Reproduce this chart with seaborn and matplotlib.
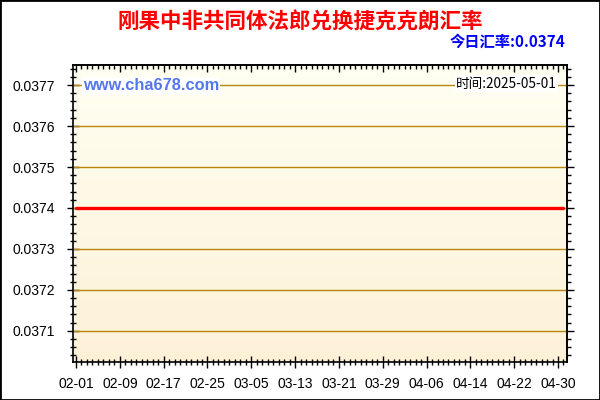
import numpy as np
import pandas as pd
import matplotlib
matplotlib.use("Agg")
import matplotlib.pyplot as plt
import matplotlib.dates as mdates
from matplotlib.colors import LinearSegmentedColormap
from matplotlib.ticker import FixedLocator, MultipleLocator, FormatStrFormatter, NullFormatter
import seaborn as sns

# data
start_date = "2025-02-01"
end_date = "2025-05-01"
rate_value = 0.0374
x_tick_dates = ["2025-02-01", "2025-02-09", "2025-02-17", "2025-02-25", "2025-03-05", "2025-03-13",
                "2025-03-21", "2025-03-29", "2025-04-06", "2025-04-14", "2025-04-22", "2025-04-30"]
x_tick_labels = ["02-01", "02-09", "02-17", "02-25", "03-05", "03-13",
                 "03-21", "03-29", "04-06", "04-14", "04-22", "04-30"]
y_ticks = [0.0371, 0.0372, 0.0373, 0.0374, 0.0375, 0.0376, 0.0377]
title = "刚果中非共同体法郎兑换捷克克朗汇率"
today_text = "今日汇率:0.0374"
time_text = "时间:2025-05-01"
site_text = "www.cha678.com"

dates = pd.date_range(start_date, end_date, freq="D")
df = pd.DataFrame({"date": dates, "rate": [rate_value] * len(dates)})

sns.set_theme(style="white")
plt.rcParams["font.family"] = ["Liberation Sans", "Noto Sans CJK SC", "DejaVu Sans"]
cjk = ["Noto Sans CJK SC", "DejaVu Sans"]

fig = plt.figure(figsize=(6, 4), dpi=100)
ax = fig.add_axes([73 / 600, 38 / 400, 494 / 600, 297 / 400])

# background gradient
cmap = LinearSegmentedColormap.from_list("bg", ["#FDF1D8", "#FFFFF2"])
grad = np.linspace(0, 1, 256).reshape(-1, 1)
ax.imshow(grad, extent=[0, 1, 0, 1], transform=ax.transAxes, aspect="auto",
          cmap=cmap, origin="lower", zorder=0)

for yv in y_ticks:
    ax.axhline(yv, color="#B8860B", lw=1, zorder=1)

sns.lineplot(data=df, x="date", y="rate", color="#FF0000", lw=2.4, ax=ax, zorder=3)

x0 = mdates.date2num(pd.Timestamp(start_date))
x1 = mdates.date2num(pd.Timestamp(x_tick_dates[-1]))
ax.set_xlim(x0 - 0.55, x1 + 1.64)
ax.set_ylim(0.037024, 0.037749)

major_x = mdates.date2num(pd.to_datetime(x_tick_dates))
ax.set_xlabel("")
ax.set_ylabel("")
for s in ax.spines.values():
    s.set_color("black")
    s.set_linewidth(1.2)

# top ticks point inward, right ticks outward
top = ax.secondary_xaxis("top")
top.xaxis.set_major_locator(FixedLocator(major_x))
top.xaxis.set_minor_locator(mdates.DayLocator())
top.xaxis.set_major_formatter(NullFormatter())
top.tick_params(which="major", direction="in", length=5, width=1, color="black")
top.tick_params(which="minor", direction="in", length=3, width=1, color="black")
right = ax.secondary_yaxis("right")
right.yaxis.set_major_locator(FixedLocator(y_ticks))
right.yaxis.set_minor_locator(MultipleLocator(0.00002))
right.yaxis.set_major_formatter(NullFormatter())
right.tick_params(which="major", direction="out", length=5, width=1, color="black")
right.tick_params(which="minor", direction="out", length=3, width=1, color="black")
for sec in (top, right):
    for s in sec.spines.values():
        s.set_color("black")
        s.set_linewidth(1.2)

# main ticks on the bottom and left, crossing the spine
ax.xaxis.set_major_locator(FixedLocator(major_x))
ax.set_xticklabels(x_tick_labels)
ax.xaxis.set_minor_locator(mdates.DayLocator())
ax.yaxis.set_major_locator(FixedLocator(y_ticks))
ax.yaxis.set_minor_locator(MultipleLocator(0.00002))
ax.yaxis.set_major_formatter(FormatStrFormatter("%.4f"))
ax.tick_params(axis="both", which="major", direction="inout", length=8, width=1,
               color="black", labelsize=10, labelcolor="black")
ax.tick_params(axis="both", which="minor", direction="inout", length=5, width=1, color="black")
ax.tick_params(axis="x", which="major", pad=7)
ax.tick_params(axis="y", which="major", pad=9)
ax.tick_params(axis="x", which="both", bottom=True, top=False, labelbottom=True)
ax.tick_params(axis="y", which="both", left=True, right=False, labelleft=True)

fig.text(0.5, 1 - 22 / 400, title, ha="center", va="center", color="#FF0000",
         fontsize=15.5, fontweight="bold", family=cjk)
fig.text(565 / 600, 1 - 42 / 400, today_text, ha="right", va="center", color="#0000FF",
         fontsize=11, fontweight="bold", family=cjk)
ax.text(0.02, 0.93, site_text, transform=ax.transAxes, ha="left", va="center",
        color="#5577EE", fontsize=11.8, fontweight="bold", zorder=4,
        bbox=dict(facecolor="white", edgecolor="none", pad=1))
ax.text(0.98, 0.937, time_text, transform=ax.transAxes, ha="right", va="center",
        color="black", fontsize=9.8, zorder=4, family=cjk,
        bbox=dict(facecolor="white", edgecolor="none", pad=1))

fig.patches.append(plt.Rectangle((0, 0), 1, 1, transform=fig.transFigure, fill=False,
                                 edgecolor="black", linewidth=2))

fig.savefig("out.png", dpi=100)
